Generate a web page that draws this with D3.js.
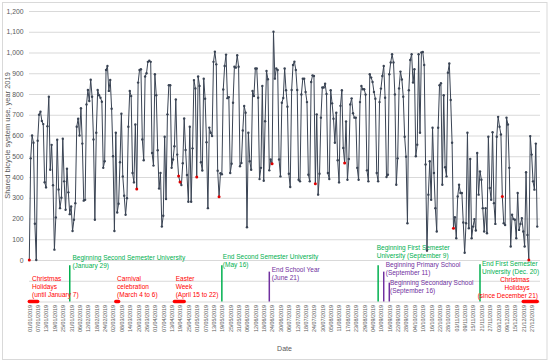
<!DOCTYPE html>
<meta charset="utf-8">
<style>

body { margin: 0; background: #fff; }

text { font-family: "Liberation Sans", Arial, sans-serif; }

.grid line {
  stroke: #d9d9d9;
  stroke-width: 1px;
}

.grid path { stroke-width: 0; }

.axis path, .axis line { display: none; }

.axis text { fill: #595959; }

.line {
  fill: none;
  stroke: #3a4454;
  stroke-width: 1px;
}

</style>
<body>

<script src="https://d3js.org/d3.v7.min.js"></script>
<script>

// daily use of the shared bicycle system, 1 Jan 2019 .. 31 Dec 2019
var usage = [
  0,490,600,565,175,0,575,700,715,670,
  655,375,350,645,787,435,555,360,50,205,
  580,340,250,300,584,379,242,440,326,221,
  258,140,194,274,642,681,600,731,561,286,
  290,750,819,766,869,787,581,194,613,819,
  794,782,763,444,476,916,935,815,868,729,
  500,140,613,229,271,471,705,403,310,218,
  298,642,815,790,419,374,653,342,855,916,
  919,581,481,884,900,955,960,955,516,455,
  895,794,529,344,419,161,213,594,294,702,
  842,842,444,484,548,774,508,405,376,361,
  466,682,530,410,281,642,281,538,867,827,
  400,884,839,471,431,874,777,568,250,638,
  613,597,955,1004,943,430,305,418,413,822,
  935,990,780,785,419,464,758,931,927,987,
  931,452,468,624,742,710,158,613,476,435,
  815,790,923,923,782,390,444,839,382,669,
  911,871,432,484,464,1100,874,923,916,484,
  403,758,781,923,818,739,416,352,819,940,
  956,916,819,387,379,798,874,874,810,761,
  411,379,858,890,887,368,702,315,416,686,
  831,831,850,800,419,390,818,755,681,565,
  710,481,374,743,818,540,468,668,387,487,
  750,779,707,686,686,444,387,761,839,823,
  823,797,432,379,895,879,858,810,777,419,
  379,761,826,887,935,782,400,411,895,952,
  992,952,798,363,490,827,908,870,787,594,
  498,177,818,964,992,855,919,500,556,992,
  613,1000,1003,940,460,45,315,476,290,637,
  419,250,137,637,842,852,363,794,447,403,
  903,947,771,565,153,206,105,306,363,323,
  323,181,35,177,613,153,487,105,161,197,
  142,516,315,427,387,250,137,250,129,594,
  347,290,616,274,174,594,690,642,605,306,
  177,169,686,653,444,65,218,197,194,105,
  323,145,174,202,137,65,423,121,0,597,
  508,379,339,561,161
];

var firstDay = "2019-01-01";
var axisEnd = "2020-01-02";

// public holidays, drawn as red points
var holidays = ["2019-01-01", "2019-03-19", "2019-04-18", "2019-04-19", "2019-05-01",
  "2019-05-17", "2019-06-24", "2019-07-25", "2019-08-15", "2019-11-01",
  "2019-12-06", "2019-12-25"];

// holiday periods (red bars under the axis)
var periodStart = ["2019-01-01", "2019-03-04", "2019-04-15", "2019-12-21"];
var periodEnd = ["2019-01-07", "2019-03-06", "2019-04-22", "2019-12-31"];
var periodText = [
  ["Christmas", "Holidays", "(until January 7)"],
  ["Carnival", "celebration", "(March 4 to 6)"],
  ["Easter", "Week", "(April 15 to 22)"],
  ["Christmas", "Holidays", "(since December 21)"]
];

// academic calendar events (vertical markers)
var eventDates = ["2019-01-30", "2019-05-19", "2019-06-22", "2019-09-08",
  "2019-09-12", "2019-09-16", "2019-11-20"];
var eventKind = ["university", "university", "school", "university", "school", "school", "university"];
var eventText = [
  ["Beginning Second Semester University", "(January 29)"],
  ["End Second Semester University", "(May 16)"],
  ["End School Year", "(June 21)"],
  ["Beginning First Semester", "University (September 9)"],
  ["Beginning Primary School", "(September 11)"],
  ["Beginning Secondary School", "(September 16)"],
  ["End First Semester", "University (Dec. 20)"]
];

var yTicks = d3.range(0, 1201, 100);
var yGrid = d3.range(-200, 1201, 100);
var tickEvery = 6;

var parseDay = d3.timeParse("%Y-%m-%d");
var start = parseDay(firstDay);

var data = usage.map(function(v, i) {
  return { date: d3.timeDay.offset(start, i), value: v };
});
var holidaySet = new Set(holidays);
var fmtKey = d3.timeFormat("%Y-%m-%d");

// layout
var width = 550, height = 364;
var plotLeft = 29, plotRight = 540;

var x = d3.scaleTime()
    .domain([start, parseDay(axisEnd)])
    .range([29.3, plotRight]);
var y = d3.scaleLinear()
    .domain([-200, 1200])
    .range([301.5, 11]);

var colours = { university: "#00b050", school: "#7030a0", holiday: "#ff0000" };

var svg = d3.select("body").append("svg")
    .attr("width", width)
    .attr("height", height);

// chart border
svg.append("rect")
    .attr("x", 2.5).attr("y", 2.5)
    .attr("width", 544.5).attr("height", 357)
    .attr("fill", "#fff")
    .attr("stroke", "#d9d9d9");

// horizontal gridlines
svg.append("g")
    .attr("class", "grid")
    .attr("transform", "translate(" + plotLeft + ",0)")
    .call(d3.axisLeft(y)
        .tickValues(yGrid)
        .tickSize(-(plotRight - plotLeft))
        .tickFormat(""));

// y axis labels
svg.append("g")
    .attr("class", "axis")
    .attr("transform", "translate(" + plotLeft + ",0)")
    .style("font-size", "6.8px")
    .call(d3.axisLeft(y)
        .tickValues(yTicks)
        .tickSize(0)
        .tickPadding(5.5)
        .tickFormat(d3.format(",")));

// x axis labels, one every 6 days
var xTicks = d3.range(0, data.length, tickEvery).map(function(i) { return data[i].date; });
svg.append("g")
    .attr("class", "axis")
    .attr("transform", "translate(0," + y(-200) + ")")
    .style("font-size", "5.4px")
    .call(d3.axisBottom(x)
        .tickValues(xTicks)
        .tickSize(0)
        .tickFormat(d3.timeFormat("%d/%m/%Y")))
    .selectAll("text")
      .style("text-anchor", "end")
      .attr("x", -3.5)
      .attr("y", 0)
      .attr("dy", "0.35em")
      .attr("transform", "rotate(-90)");

// axis titles
svg.append("text")
    .attr("x", (plotLeft + plotRight) / 2)
    .attr("y", 350.5)
    .attr("text-anchor", "middle")
    .style("font-size", "7px")
    .style("fill", "#595959")
    .text("Date");

svg.append("text")
    .attr("transform", "rotate(-90)")
    .attr("x", -y(600))
    .attr("y", 9.6)
    .attr("text-anchor", "middle")
    .style("font-size", "7.5px")
    .style("fill", "#595959")
    .text("Shared bicycle system use, year 2019");

// event markers
var eventTop = [-25, -25, -56, -25, -56, -109, -20];
var eventLabelY = [260.3, 259, 271.6, 250.3, 267.3, 285, 266];
var eventLabelDx = [2.7, 1, 2.4, -1.4, 2, 0.7, 2];

eventDates.forEach(function(d, i) {
  var ex = x(parseDay(d));
  svg.append("line")
      .attr("x1", ex).attr("x2", ex)
      .attr("y1", y(eventTop[i])).attr("y2", y(-200))
      .attr("stroke", colours[eventKind[i]])
      .attr("stroke-width", 1.5);
  var t = svg.append("text")
      .attr("x", ex + eventLabelDx[i])
      .attr("y", eventLabelY[i])
      .style("font-size", "6.5px")
      .style("fill", colours[eventKind[i]]);
  eventText[i].forEach(function(s, j) {
    t.append("tspan")
        .attr("x", ex + eventLabelDx[i])
        .attr("dy", j ? 8.1 : 0)
        .text(s);
  });
});

// holiday period bars and labels
periodStart.forEach(function(d, i) {
  var x0 = x(parseDay(d)), x1 = x(parseDay(periodEnd[i]));
  svg.append("line")
      .attr("x1", x0).attr("x2", x1)
      .attr("y1", y(-200)).attr("y2", y(-200))
      .attr("stroke", colours.holiday)
      .attr("stroke-width", 3.5)
      .attr("stroke-linecap", "round");

  var last = i === periodStart.length - 1;
  var t = svg.append("text")
      .attr("y", last ? 282.4 : 280.6)
      .attr("text-anchor", last ? "end" : "start")
      .style("font-size", "6.5px")
      .style("fill", colours.holiday);
  periodText[i].forEach(function(s, j) {
    var lx = last ? (j < 2 ? 529.5 : 538) : x0 + (i === 0 ? 2.7 : 1.3);
    t.append("tspan")
        .attr("x", lx)
        .attr("dy", j ? (last ? 7.9 : 8.2) : 0)
        .text(s);
  });
});

// the series
var valueline = d3.line()
    .x(function(d) { return x(d.date); })
    .y(function(d) { return y(d.value); });

svg.append("path")
    .datum(data)
    .attr("class", "line")
    .attr("d", valueline);

svg.selectAll(".dot")
    .data(data)
  .enter().append("circle")
    .attr("class", "dot")
    .attr("r", function(d) { return holidaySet.has(fmtKey(d.date)) ? 1.5 : 1.2; })
    .attr("cx", function(d) { return x(d.date); })
    .attr("cy", function(d) { return y(d.value); })
    .attr("fill", function(d) { return holidaySet.has(fmtKey(d.date)) ? "#e00000" : "#3a4454"; });

</script>
</body>
